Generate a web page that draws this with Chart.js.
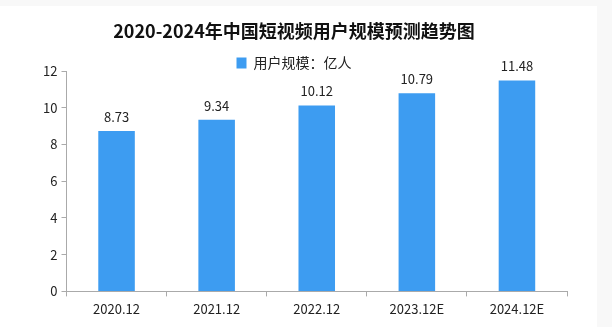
<!DOCTYPE html>
<html>
<head>
<meta charset="utf-8">
<script src="https://cdn.jsdelivr.net/npm/chart.js@4"></script>
<style>
  html, body { margin: 0; padding: 0; background: #f8f8f8; }
  #wrap { position: relative; width: 612px; height: 327px; background: #f8f8f8; }
  #paper { position: absolute; left: 0; top: 6px; width: 597px; height: 321px; background: #fff; }
  #userChart { position: absolute; left: 0; top: 0; }
</style>
</head>
<body>
<div id="wrap">
  <div id="paper"></div>
  <canvas id="userChart" width="612" height="327"></canvas>
</div>
<script>
// 數據
const categories = ['2020.12', '2021.12', '2022.12', '2023.12E', '2024.12E'];
const userScale = [8.73, 9.34, 10.12, 10.79, 11.48];
const yTicks = [0, 2, 4, 6, 8, 10, 12];
const seriesName = '用户规模：亿人';
const chartTitle = '2020-2024年中国短视频用户规模预测趋势图';

const FONT = '"Noto Sans CJK SC", "DejaVu Sans", sans-serif';

// 柱頂數值標籤
const valueLabels = {
    id: 'valueLabels',
    afterDatasetsDraw(chart) {
        const { ctx } = chart;
        const meta = chart.getDatasetMeta(0);
        ctx.save();
        ctx.font = '13px ' + FONT;
        ctx.fillStyle = '#222';
        ctx.textAlign = 'center';
        ctx.textBaseline = 'middle';
        meta.data.forEach((bar, i) => {
            ctx.fillText(userScale[i].toFixed(2), bar.x, bar.y - 14);
        });
        ctx.restore();
    }
};

new Chart(document.getElementById('userChart'), {
    type: 'bar',
    data: {
        labels: categories,
        datasets: [{
            label: seriesName,
            data: userScale,
            backgroundColor: '#3d9cf1',
            borderWidth: 0,
            categoryPercentage: 1,
            barPercentage: 0.365
        }]
    },
    options: {
        responsive: false,
        animation: false,
        layout: { padding: { left: 21, right: 45, top: 0, bottom: 5 } },
        scales: {
            y: {
                min: 0,
                max: 12,
                afterBuildTicks: (axis) => { axis.ticks = yTicks.map(v => ({ value: v })); },
                afterFit: (axis) => { axis.width = 45.5; },
                ticks: { color: '#222', font: { size: 13, family: FONT }, padding: 4 },
                grid: { drawOnChartArea: false, drawTicks: true, tickLength: 5, color: '#aaa' },
                border: { color: '#aaa' }
            },
            x: {
                ticks: { color: '#222', font: { size: 13, family: FONT }, padding: 5 },
                grid: { drawOnChartArea: false, drawTicks: true, tickLength: 5, color: '#aaa' },
                border: { color: '#aaa' }
            }
        },
        plugins: {
            title: {
                display: true,
                text: chartTitle,
                color: '#111',
                font: { size: 18, weight: 'bold', family: FONT },
                padding: { top: 20, bottom: 12.4 }
            },
            legend: {
                display: true,
                maxHeight: 17,
                labels: {
                    boxWidth: 10,
                    boxHeight: 11,
                    color: '#222',
                    font: { size: 14, family: FONT },
                    padding: 2
                }
            },
            tooltip: { enabled: false }
        }
    },
    plugins: [valueLabels]
});
</script>
</body>
</html>
